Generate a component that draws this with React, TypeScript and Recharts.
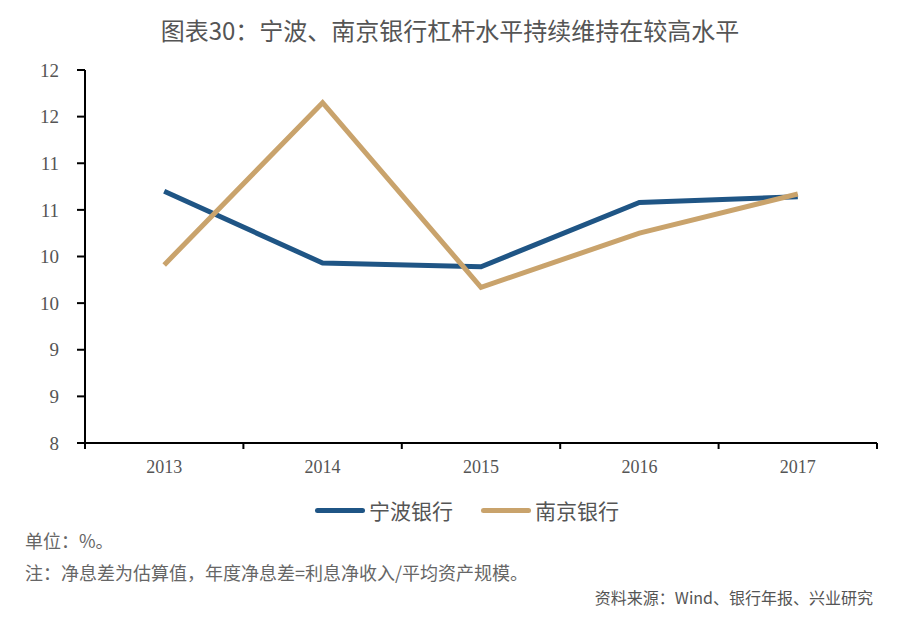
import React from "react";
import { LineChart, Line, XAxis, YAxis } from "recharts";

// Chart data
const years = ["2013", "2014", "2015", "2016", "2017"];
const ningbo = [10.7, 9.93, 9.89, 10.58, 10.64];
const nanjing = [9.91, 11.65, 9.67, 10.25, 10.67];
const yTicks = [8, 8.5, 9, 9.5, 10, 10.5, 11, 11.5, 12];

const series = [
  { key: "ningbo", name: "宁波银行", color: "#1f5585" },
  { key: "nanjing", name: "南京银行", color: "#c9a36c" },
];

const chartData = years.map((year, i) => ({
  year,
  ningbo: ningbo[i],
  nanjing: nanjing[i],
}));

const W = 900;
const H = 480;
const PLOT_LEFT = 85;
const PLOT_RIGHT = 877;
const PLOT_BOTTOM = 443;
const HALF_BAND = (PLOT_RIGHT - PLOT_LEFT) / years.length / 2;

const cjk = '"Noto Sans CJK SC", "Noto Sans", sans-serif';
const serif = '"Liberation Serif", "DejaVu Serif", serif';

function YearTick(props: any) {
  const { x, payload, index } = props;
  const y = PLOT_BOTTOM;
  return (
    <g>
      <line x1={x - HALF_BAND} y1={y} x2={x - HALF_BAND} y2={y + 6} stroke="#000" strokeWidth={2} />
      {index === years.length - 1 && (
        <line x1={x + HALF_BAND} y1={y} x2={x + HALF_BAND} y2={y + 6} stroke="#000" strokeWidth={2} />
      )}
      <text x={x} y={y + 30} textAnchor="middle" fontFamily={serif} fontSize={18} fill="#555">
        {payload.value}
      </text>
    </g>
  );
}

export default function App() {
  return (
    <div
      style={{
        position: "absolute",
        left: 0,
        top: 0,
        width: W,
        height: 619,
        background: "#fff",
        fontFamily: cjk,
      }}
    >
      <div
        style={{
          position: "absolute",
          top: 12,
          width: W,
          textAlign: "center",
          fontSize: 24,
          fontWeight: "normal",
          color: "#555",
        }}
      >
        图表30：宁波、南京银行杠杆水平持续维持在较高水平
      </div>

      <LineChart
        width={W}
        height={H}
        data={chartData}
        margin={{ top: 70, right: W - PLOT_RIGHT, left: 25, bottom: H - PLOT_BOTTOM - 30 }}
      >
        <XAxis
          dataKey="year"
          tickLine={false}
          axisLine={{ stroke: "#000", strokeWidth: 2 }}
          tick={<YearTick />}
          interval={0}
          height={30}
          padding={{ left: HALF_BAND, right: HALF_BAND }}
        />
        <YAxis
          domain={[8, 12]}
          ticks={yTicks}
          width={60}
          tickFormatter={(v: number) => String(Math.round(v))}
          axisLine={{ stroke: "#000", strokeWidth: 2 }}
          tickLine={{ stroke: "#000", strokeWidth: 2 }}
          tickSize={8}
          tickMargin={18}
          tick={{ fontFamily: serif, fontSize: 19, fill: "#555" }}
        />
        {series.map((s) => (
          <Line
            key={s.key}
            type="linear"
            dataKey={s.key}
            name={s.name}
            stroke={s.color}
            strokeWidth={5}
            dot={false}
            isAnimationActive={false}
          />
        ))}
      </LineChart>

      <div
        style={{
          position: "absolute",
          top: 495,
          width: W,
          display: "flex",
          justifyContent: "center",
          paddingLeft: 34,
          boxSizing: "border-box",
          gap: 28,
          fontSize: 21,
          color: "#555",
        }}
      >
        {series.map((s) => (
          <div key={s.key} style={{ display: "flex", alignItems: "center" }}>
            <span
              style={{
                display: "inline-block",
                width: 50,
                height: 5,
                borderRadius: 3,
                background: s.color,
                marginRight: 4,
              }}
            />
            {s.name}
          </div>
        ))}
      </div>

      <div style={{ position: "absolute", left: 25, top: 527, fontSize: 18, color: "#666" }}>
        单位：%。
      </div>
      <div style={{ position: "absolute", left: 25, top: 559, fontSize: 18, color: "#666" }}>
        注：净息差为估算值，年度净息差=利息净收入/平均资产规模。
      </div>
      <div style={{ position: "absolute", right: 27, top: 585, fontSize: 16, color: "#555" }}>
        资料来源：Wind、银行年报、兴业研究
      </div>
    </div>
  );
}
